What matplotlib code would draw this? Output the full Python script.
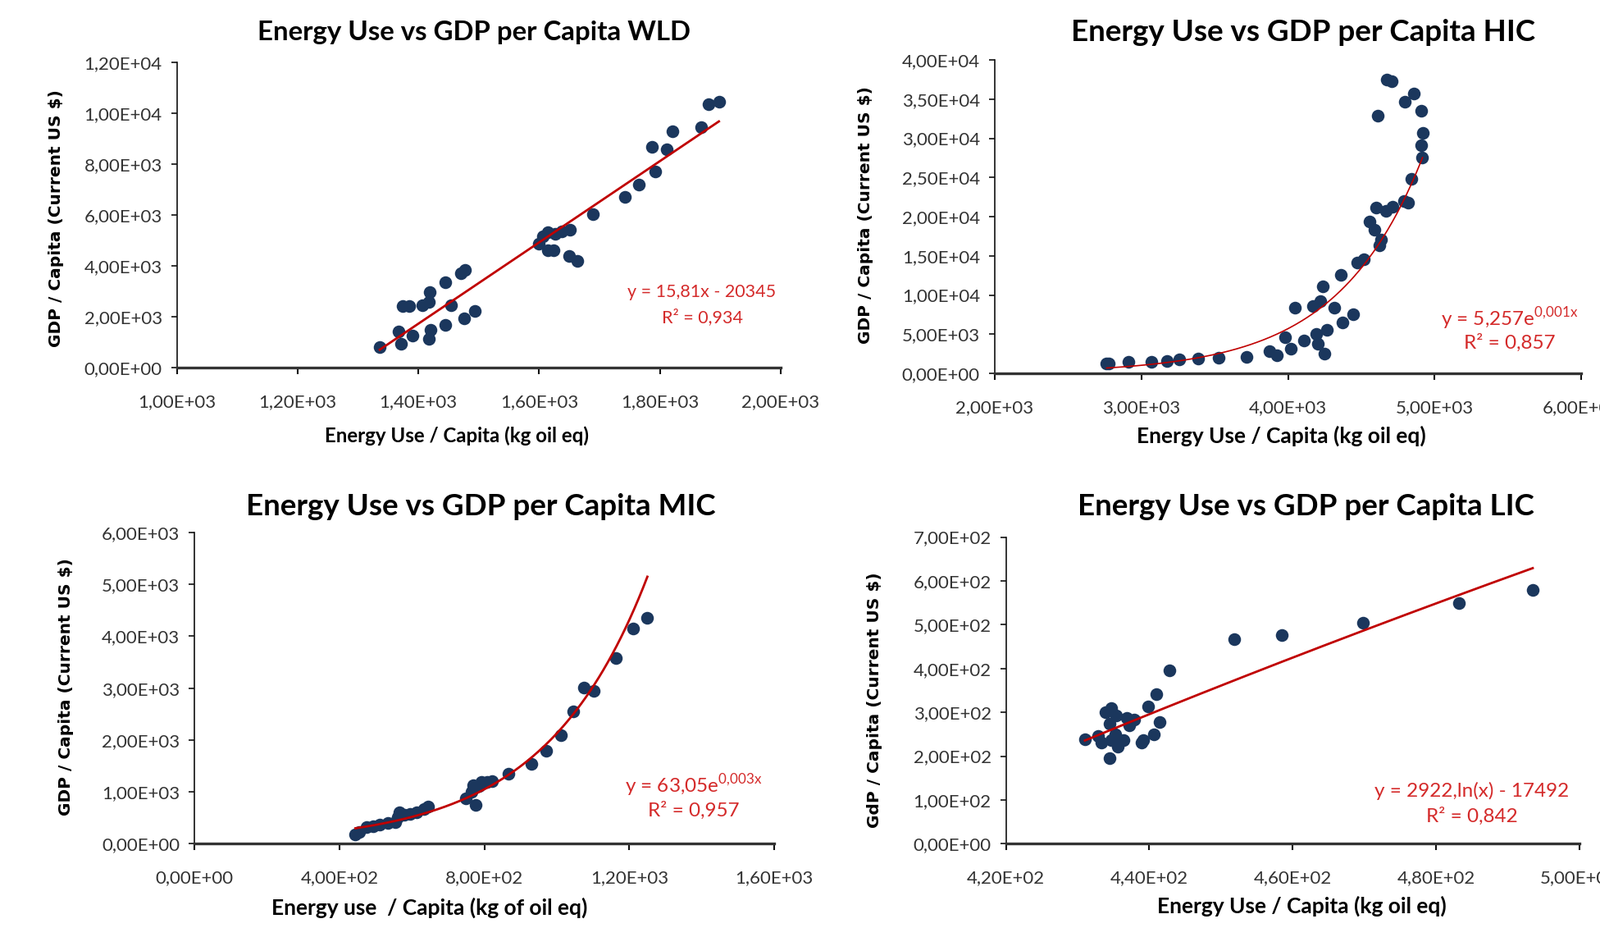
import numpy as np
import matplotlib
matplotlib.use("Agg")
import matplotlib.pyplot as plt
from matplotlib.ticker import FuncFormatter, MultipleLocator

plt.rcParams['font.family'] = ['Lato', 'DejaVu Sans']
plt.rcParams['mathtext.fontset'] = 'custom'
plt.rcParams['mathtext.rm'] = 'Lato'

# ---- data ----
wld_energy = [1336, 1371, 1367, 1390, 1374, 1385, 1407, 1417, 1419, 1420, 1417,
              1445, 1454, 1445, 1471, 1477, 1476, 1493, 1600, 1606, 1615, 1627,
              1638, 1651, 1615, 1624, 1650, 1664, 1689, 1742, 1765, 1792, 1787,
              1812, 1821, 1868, 1881, 1898]
wld_gdp = [816, 925, 1419, 1269, 2430, 2409, 2462, 2570, 2978, 1495, 1118,
           3355, 2462, 1677, 3699, 3828, 1925, 2215, 4882, 5151, 5333, 5258,
           5366, 5419, 4613, 4613, 4398, 4204, 6043, 6710, 7194, 7699, 8677,
           8591, 9290, 9452, 10344, 10441]

hic_energy = [2763, 2776, 2912, 3067, 3174, 3258, 3385, 3525, 3716, 3875, 3925,
              4021, 3979, 4109, 4049, 4171, 4221, 4240, 4314, 4193, 4268, 4202,
              4249, 4370, 4445, 4361, 4473, 4516, 4557, 4589, 4637, 4623, 4600,
              4670, 4716, 4791, 4819, 4843, 4913, 4909, 4918, 4909, 4613, 4796,
              4856, 4675, 4707]
hic_gdp = [1222, 1290, 1466, 1466, 1571, 1745, 1850, 1990, 2094, 2792, 2340,
           3141, 4607, 4188, 8377, 8621, 9180, 11064, 8377, 5061, 5585, 3735,
           2548, 6527, 7574, 12565, 14136, 14555, 19372, 18325, 17103, 16300,
           21117, 20768, 21291, 21990, 21815, 24782, 27574, 29075, 30716, 33508,
           32914, 34624, 35707, 37522, 37242]

mic_energy = [444, 455, 474, 493, 512, 534, 553, 561, 565, 580, 595, 614, 633,
              644, 749, 776, 768, 791, 821, 808, 784, 765, 866, 930, 970, 1011,
              1045, 1074, 1103, 1164, 1211, 1250]
mic_gdp = [174, 226, 316, 332, 368, 395, 421, 511, 606, 553, 579, 606, 669,
           711, 870, 748, 1133, 1186, 1212, 1186, 1107, 1001, 1344, 1539, 1792,
           2093, 2557, 3005, 2952, 3575, 4149, 4350]

lic_energy = [431.0, 432.8, 433.3, 434.5, 433.9, 434.7, 435.4, 434.5, 436.8,
              437.2, 437.9, 434.7, 435.6, 436.4, 435.3, 438.9, 439.1, 440.6,
              441.4, 439.8, 441.0, 442.8, 451.9, 458.5, 469.8, 483.2, 493.5]
lic_gdp = [238, 245, 231, 195, 300, 310, 293, 274, 287, 271, 284, 237, 221,
           237, 250, 231, 237, 250, 278, 313, 341, 396, 466, 476, 504, 549, 580]

W, H = 1951, 1131
DOT = '#1b375d'
RED = '#c00000'
EQ = '#d42a2a'


def rect(l, t, r, b):
    return [l / W, 1 - b / H, (r - l) / W, (b - t) / H]


def sci(v, pos):
    return ('%.2E' % v).replace('.', ',')


def style(ax, xlim, ylim, xstep, ystep):
    ax.set_xlim(*xlim)
    ax.set_ylim(*ylim)
    ax.xaxis.set_major_locator(MultipleLocator(xstep))
    ax.yaxis.set_major_locator(MultipleLocator(ystep))
    ax.xaxis.set_major_formatter(FuncFormatter(sci))
    ax.yaxis.set_major_formatter(FuncFormatter(sci))
    for s in ['top', 'right']:
        ax.spines[s].set_visible(False)
    ax.spines['left'].set_linewidth(1.2)
    ax.spines['left'].set_color('#111111')
    ax.spines['bottom'].set_linewidth(2.4)
    ax.spines['bottom'].set_color('#333333')
    ax.tick_params(axis='x', direction='out', length=6, width=1.5, pad=17,
                   labelsize=16, labelcolor='#333333', color='#111111')
    ax.tick_params(axis='y', direction='out', length=5, width=1.2, pad=8,
                   labelsize=16, labelcolor='#333333', color='#111111')


def txt(text, cx, cy, **kw):
    fig.text(cx / W, 1 - cy / H, text, ha='center', va='center', **kw)


def labels(xlabel, ylabel, xpos, ypos, xsize):
    txt(xlabel, xpos[0], xpos[1], fontsize=xsize, fontweight='bold')
    txt(ylabel, ypos[0], ypos[1], rotation=90, fontsize=14.5,
        fontweight='bold', family='DejaVu Sans')


def equation(line1, line2, cx, cy1, cy2, size):
    txt(line1, cx, cy1, fontsize=size, color=EQ)
    txt(line2, cx, cy2, fontsize=size, color=EQ)


fig = plt.figure(figsize=(W / 100, H / 100), dpi=100)

# WLD - linear trend
ax1 = fig.add_axes(rect(215.8, 76, 951.7, 448))
x = np.array(wld_energy, float)
y = np.array(wld_gdp, float)
ax1.scatter(x, y, s=125, color=DOT, zorder=2, linewidths=0)
k, c = np.polyfit(x, y, 1)
xx = np.linspace(x.min(), x.max(), 100)
ax1.plot(xx, k * xx + c, color=RED, lw=2, zorder=3)
style(ax1, (1000, 2000), (0, 12000), 200, 2000)
labels('Energy Use / Capita (kg oil eq)', 'GDP / Capita (Current US $)',
       (557, 531), (68, 266), 17.3)
txt('Energy Use vs GDP per Capita WLD', 578, 40, fontsize=23.8, fontweight='bold')
equation('y = 15,81x - 20345', 'R² = 0,934', 856, 356, 387, 15.5)

# HIC - exponential trend
ax2 = fig.add_axes(rect(1213, 73, 1928, 455))
x = np.array(hic_energy, float)
y = np.array(hic_gdp, float)
ax2.scatter(x, y, s=125, color=DOT, zorder=2, linewidths=0)
b, a = np.polyfit(x, np.log(y), 1)
xx = np.linspace(x.min(), x.max(), 200)
ax2.plot(xx, np.exp(a + b * xx), color=RED, lw=1.2, zorder=3)
style(ax2, (2000, 6000), (0, 40000), 1000, 5000)
labels('Energy Use / Capita (kg oil eq)', 'GDP / Capita (Current US $)',
       (1562, 531), (1055, 262), 19)
txt('Energy Use vs GDP per Capita HIC', 1589, 39, fontsize=26.5, fontweight='bold')
equation(r'y = 5,257e$^{\mathrm{0{,}001x}}$', 'R² = 0,857', 1841, 388, 418, 17.5)

# MIC - exponential trend
ax3 = fig.add_axes(rect(237.3, 649, 944, 1028.3))
x = np.array(mic_energy, float)
y = np.array(mic_gdp, float)
ax3.scatter(x, y, s=125, color=DOT, zorder=2, linewidths=0)
b, a = np.polyfit(x, np.log(y), 1)
xx = np.linspace(x.min(), x.max(), 200)
ax3.plot(xx, np.exp(a + b * xx), color=RED, lw=2, zorder=3)
style(ax3, (0, 1600), (0, 6000), 400, 1000)
labels('Energy use  / Capita (kg of oil eq)', 'GDP / Capita (Current US $)',
       (524, 1106), (81, 837), 19)
txt('Energy Use vs GDP per Capita MIC', 586, 618, fontsize=26.5, fontweight='bold')
equation(r'y = 63,05e$^{\mathrm{0{,}003x}}$', 'R² = 0,957', 846, 957, 988, 17.5)

# LIC - logarithmic trend
ax4 = fig.add_axes(rect(1226.75, 654.5, 1925.75, 1028.3))
x = np.array(lic_energy, float)
y = np.array(lic_gdp, float)
ax4.scatter(x, y, s=125, color=DOT, zorder=2, linewidths=0)
k, c = np.polyfit(np.log(x), y, 1)
xx = np.linspace(x.min(), x.max(), 200)
ax4.plot(xx, k * np.log(xx) + c, color=RED, lw=2, zorder=3)
style(ax4, (420, 500), (0, 700), 20, 100)
labels('Energy Use / Capita (kg oil eq)', 'GdP / Capita (Current US $)',
       (1587, 1104), (1066, 853), 19)
txt('Energy Use vs GDP per Capita LIC', 1592, 617, fontsize=26.5, fontweight='bold')
equation('y = 2922,ln(x) - 17492', 'R² = 0,842', 1795, 964, 995, 17.5)

fig.savefig('out.png', dpi=100)
